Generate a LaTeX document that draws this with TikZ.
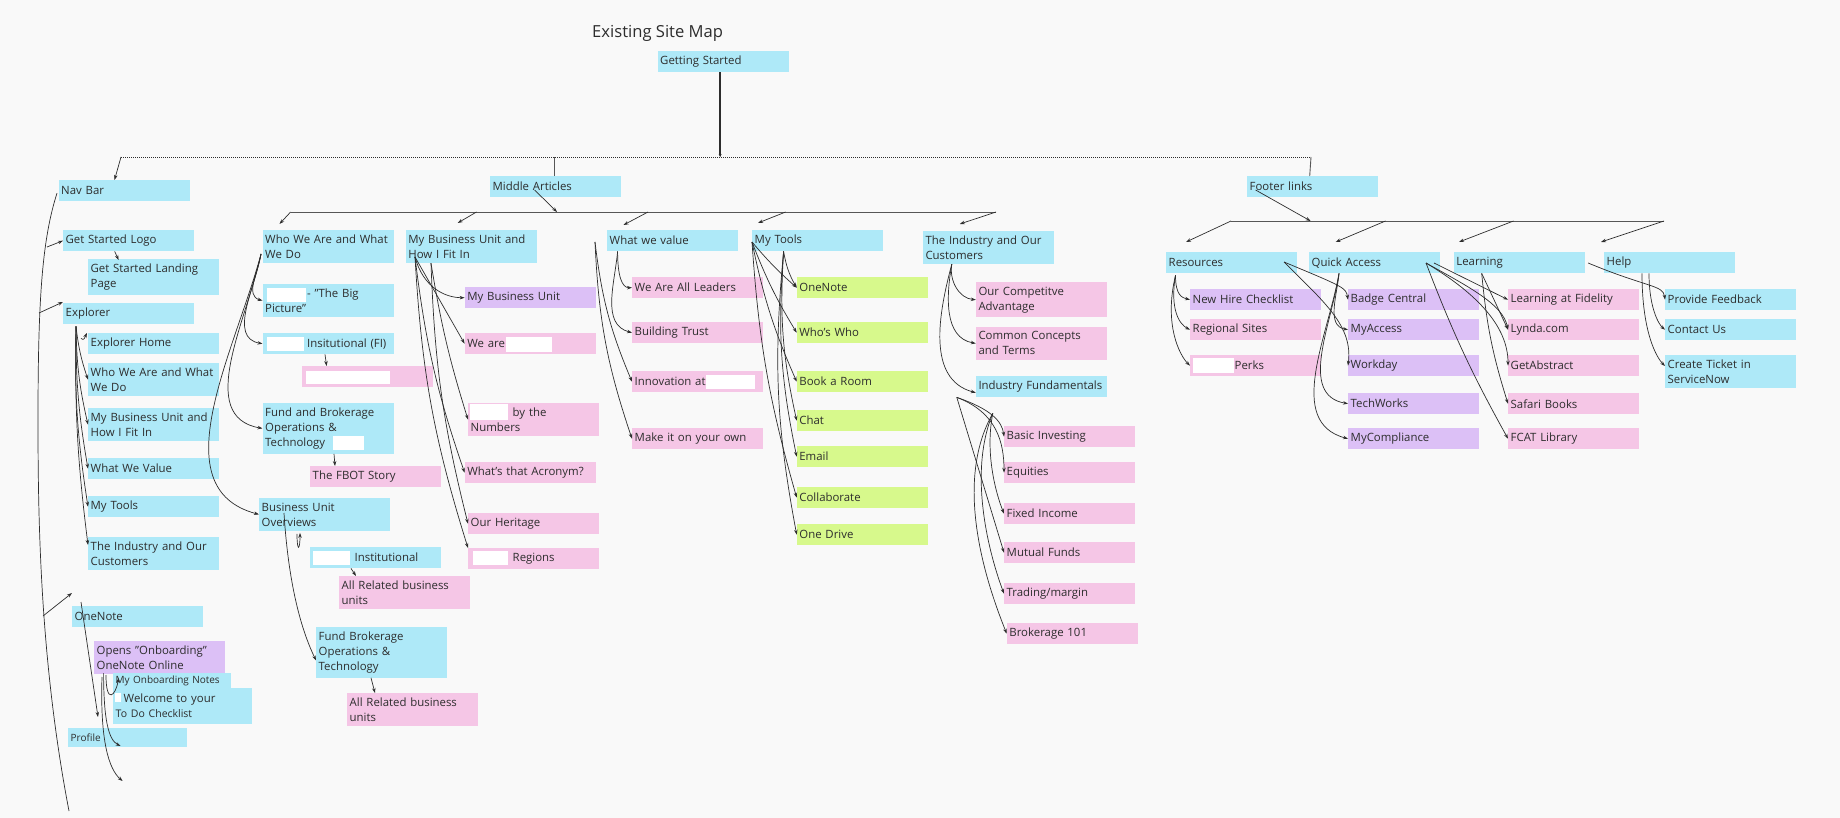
\documentclass[tikz,border=0pt]{standalone}
\usepackage{fontspec}
\setmainfont{Open Sans}
\usetikzlibrary{calc,arrows.meta}
\definecolor{paper}{RGB}{249,249,249}
\definecolor{ink}{RGB}{45,45,45}
\definecolor{tileblue}{RGB}{174,233,248}
\definecolor{tilepink}{RGB}{245,198,230}
\definecolor{tilepurple}{RGB}{220,192,246}
\definecolor{tilegreen}{RGB}{215,249,140}
\def\whiteout(#1)(#2){\fill[white] (#1) rectangle (#2);}
\tikzset{
  tile/.style={anchor=north west, text width=126pt, inner xsep=2.5pt, inner ysep=4.5pt,
    minimum height=21pt, align=left, font=\fontsize{11.4}{15}\selectfont, text=ink},
  bluebox/.style={tile, fill=tileblue},
  pinkbox/.style={tile, fill=tilepink},
  purplebox/.style={tile, fill=tilepurple},
  greenbox/.style={tile, fill=tilegreen},
  link/.style={draw=ink, line width=0.7pt, -{Stealth[length=5pt,width=3.5pt]}},
  rail/.style={draw=ink!80, line width=0.9pt}
}

\begin{document}
\begin{tikzpicture}[x=1pt,y=-1pt]
			%%%%% START %%%%%
			
			\fill[paper] (0,0) rectangle (1840,818);
			\useasboundingbox (0,0) rectangle (1840,818);
			
			\node[anchor=west, inner sep=0pt, text=ink, font=\fontsize{16.6}{20}\selectfont] (title) at (592,33) {Existing Site Map};
			\node[bluebox] (start) at (657.5,51) {Getting Started};
			
			\node[bluebox] (navbar) at (58.5,180) {Nav Bar};
			\node[bluebox] (middle) at (490,176) {Middle Articles};
			\node[bluebox] (footer) at (1247,176) {Footer links};
			
			% nav bar
			\node[bluebox] (logo) at (63,230) {Get Started Logo};
			\node[bluebox] (landing) at (88,259) {Get Started Landing\\Page};
			\node[bluebox] (explorer) at (63,303) {Explorer};
			\node[bluebox] (exhome) at (88,333) {Explorer Home};
			\node[bluebox] (exwho) at (88,363) {Who We Are and What\\We Do};
			\node[bluebox] (exunit) at (88,408) {My Business Unit and\\How I Fit In};
			\node[bluebox] (exvalue) at (88,458) {What We Value};
			\node[bluebox] (extools) at (88,496) {My Tools};
			\node[bluebox] (exindustry) at (88,537) {The Industry and Our\\Customers};
			\node[bluebox] (onenote) at (72,606) {OneNote};
			\node[purplebox] (onboard) at (94,641) {Opens "Onboarding"\\OneNote Online};
			\node[bluebox, text width=113pt, minimum height=15pt, inner ysep=1pt, font=\fontsize{10}{12}\selectfont] (notes) at (113,673) {My Onboarding Notes};
			\node[bluebox, text width=134pt, minimum height=36pt] (checklist) at (113,688) {\hspace*{8pt}Welcome to your\\{\fontsize{10.5}{12}\selectfont To Do Checklist}};
			\node[bluebox, text width=114pt, minimum height=19pt, font=\fontsize{10}{12}\selectfont] (profile) at (68,728) {Profile};
			
			% middle articles
			\node[bluebox] (who) at (262.5,230) {Who We Are and What\\We Do};
			\node[bluebox] (bigpic) at (262.5,284) {\hspace*{42pt}- "The Big\\Picture"};
			\node[bluebox] (insti) at (262.5,333) {\hspace*{42pt}Insitutional (FI)};
			\node[pinkbox] (redpink) at (302,366) {};
			\node[bluebox] (fundbro) at (262.5,403) {Fund and Brokerage\\Operations \&\\Technology};
			\node[pinkbox] (fbot) at (310,466) {The FBOT Story};
			\node[bluebox] (overviews) at (259,498) {Business Unit\\Overviews};
			\node[bluebox] (instit2) at (310,547) {\hspace*{42pt}Institutional};
			\node[pinkbox] (related1) at (339,576) {All Related business\\units};
			\node[bluebox] (fundbro2) at (316,627) {Fund Brokerage\\Operations \&\\Technology};
			\node[pinkbox] (related2) at (347,693) {All Related business\\units};
			
			\node[bluebox] (unit) at (405.7,230) {My Business Unit and\\How I Fit In};
			\node[purplebox] (myunit) at (464.6,287) {My Business Unit};
			\node[pinkbox] (weare) at (464.6,333) {We are};
			\node[pinkbox] (numbers) at (468,403) {\hspace*{42pt}by the\\Numbers};
			\node[pinkbox] (acronym) at (464.6,462) {What's that Acronym?};
			\node[pinkbox] (heritage) at (468,513) {Our Heritage};
			\node[pinkbox] (regions) at (468,548) {\hspace*{42pt}Regions};
			
			\node[bluebox] (value) at (607,230) {What we value};
			\node[pinkbox] (leaders) at (632,277) {We Are All Leaders};
			\node[pinkbox] (trust) at (632,322) {Building Trust};
			\node[pinkbox] (innovation) at (632,371) {Innovation at};
			\node[pinkbox] (ownway) at (632,428) {Make it on your own};
			
			\node[bluebox] (tools) at (752,230) {My Tools};
			\node[greenbox] (tonenote) at (796.7,277) {OneNote};
			\node[greenbox] (whoswho) at (796.7,322) {Who's Who};
			\node[greenbox] (room) at (796.7,371) {Book a Room};
			\node[greenbox] (chat) at (796.7,410) {Chat};
			\node[greenbox] (email) at (796.7,446) {Email};
			\node[greenbox] (collab) at (796.7,487) {Collaborate};
			\node[greenbox] (drive) at (796.7,524) {One Drive};
			
			\node[bluebox] (industry) at (922.8,231) {The Industry and Our\\Customers};
			\node[pinkbox] (advantage) at (975.8,282) {Our Competitve\\Advantage};
			\node[pinkbox] (concepts) at (975.8,327) {Common Concepts\\and Terms};
			\node[bluebox] (fundamentals) at (975.8,376) {Industry Fundamentals};
			\node[pinkbox] (basic) at (1004,426) {Basic Investing};
			\node[pinkbox] (equities) at (1004,462) {Equities};
			\node[pinkbox] (fixed) at (1004,503) {Fixed Income};
			\node[pinkbox] (mutual) at (1004,542) {Mutual Funds};
			\node[pinkbox] (trading) at (1004,583) {Trading/margin};
			\node[pinkbox] (brokerage) at (1006.7,623) {Brokerage 101};
			
			% footer links
			\node[bluebox] (resources) at (1166,252) {Resources};
			\node[bluebox] (quick) at (1309,252) {Quick Access};
			\node[bluebox] (learning) at (1453.7,252) {Learning};
			\node[bluebox] (help) at (1604,252) {Help};
			\node[purplebox] (newhire) at (1190,289) {New Hire Checklist};
			\node[pinkbox] (regional) at (1190,319) {Regional Sites};
			\node[pinkbox] (perks) at (1190,355) {\hspace*{42pt}Perks};
			\node[purplebox] (badge) at (1348,289) {Badge Central};
			\node[purplebox] (myaccess) at (1348,319) {MyAccess};
			\node[purplebox] (workday) at (1348,355) {Workday};
			\node[purplebox] (techworks) at (1348,393) {TechWorks};
			\node[purplebox] (compliance) at (1348,428) {MyCompliance};
			\node[pinkbox] (fidelity) at (1508,289) {Learning at Fidelity};
			\node[pinkbox] (lynda) at (1508,319) {Lynda.com};
			\node[pinkbox] (abstract) at (1508,355) {GetAbstract};
			\node[pinkbox] (safari) at (1508,393) {Safari Books};
			\node[pinkbox] (fcat) at (1508,428) {FCAT Library};
			\node[bluebox] (feedback) at (1665,289) {Provide Feedback};
			\node[bluebox] (contact) at (1665,319) {Contact Us};
			\node[bluebox] (ticket) at (1665,355) {Create Ticket in\\ServiceNow};
			
			% blanked out names
			\whiteout(267,288)(305.6,302)
			\whiteout(267,337)(303.7,351)
			\whiteout(306,371)(389.5,384)
			\whiteout(333,436)(364,450)
			\whiteout(313,551)(350,565)
			\whiteout(506,337)(551.6,352)
			\whiteout(470,404)(508,420)
			\whiteout(473,551)(508,565)
			\whiteout(705.7,375)(755,389)
			\whiteout(1193,358)(1233.6,373)
			\whiteout(114.5,693)(120.5,702)
			
			% top rails
			\coordinate (railL) at (121,157);
			\coordinate (railR) at (1311,157);
			\coordinate (midtop) at (554,157);
			\draw[line width=0.9pt, dash pattern=on 1pt off 1pt, ink] (railL) -- (railR);
			\draw[line width=1.6pt, ink, -{Stealth[length=3pt,width=3pt]}] ([xshift=-3pt]start.south) -- ([xshift=-3pt]start.south |- railL);
			\draw[link] (railL) -- ($(navbar.north west)+(56,0)$);
			\draw[rail] (midtop) -- (midtop |- middle.north);
			\draw[rail] (railR) -- ([xshift=-3pt]footer.north);
			
			\coordinate (m1) at (290.6,212);
			\coordinate (m2) at (476.5,212);
			\coordinate (m3) at (648,212);
			\coordinate (m4) at (785.6,212);
			\coordinate (m5) at (996,212);
			\coordinate (mhit) at (557,212);
			\draw[rail] (m1) -- (m5);
			\draw[link] ($(middle.north west)+(44.6,14)$) -- (mhit);
			\draw[link] (m1) -- ($(who.north west)+(17,-6)$);
			\draw[link] (m2) -- ($(unit.north west)+(52,-7)$);
			\draw[link] (m3) -- ($(value.north west)+(16.5,-5)$);
			\draw[link] (m4) -- ($(tools.north west)+(6,-7)$);
			\draw[link] (m5) -- ($(industry.north west)+(37,-7)$);
			
			\coordinate (f1) at (1231,221);
			\coordinate (f2) at (1385.5,221);
			\coordinate (f3) at (1513.5,221);
			\coordinate (f4) at (1664,221);
			\coordinate (fhit) at (1310.6,221);
			\draw[rail] (f1) -- (f4);
			\draw[link] ($(footer.north west)+(8.6,14)$) -- (fhit);
			\draw[link] (f1) -- ($(resources.north west)+(20,-10)$);
			\draw[link] (f2) -- ($(quick.north west)+(26.7,-10)$);
			\draw[link] (f3) -- ($(learning.north west)+(5.3,-10)$);
			\draw[link] (f4) -- ($(help.north west)+(-3,-10)$);
			
			% nav bar spine
			\coordinate (spine) at (69,811);
			\coordinate (sp1) at (47,247);
			\coordinate (sp2) at (39,313);
			\coordinate (sp3) at (43,616);
			\draw[line width=0.7pt, ink] ($(navbar.west)+(-1.5,2.5)$) .. controls (42,240) and (38,300) .. (38,420) .. controls (38,520) and (40,660) .. (spine);
			\draw[link] (sp1) -- (logo.west);
			\draw[link] (sp2) -- ($(explorer.north west)+(0,-1)$);
			\draw[link] (sp3) -- ($(onenote.north west)+(0,-13)$);
			\draw[link] ($(logo.south west)+(51.7,0)$) -- ($(landing.north west)+(30.6,1)$);
			
			\coordinate (ex0) at ($(explorer.south west)+(13,2)$);
			\draw[link] ($(explorer.south west)+(18,14)$) .. controls +(3,3) and +(-2,4) .. ($(exhome.north west)+(-1,0)$);
			\draw[link] (ex0) to[bend right=6] (exwho.west);
			\draw[link] (ex0) to[bend right=6] (exunit.west);
			\draw[link] (ex0) to[bend right=5] (exvalue.west);
			\draw[link] (ex0) to[bend right=5] (extools.west);
			\draw[link] (ex0) to[bend right=4] ($(exindustry.north west)+(0,8)$);
			
			\draw[link] ($(onenote.north west)+(9,-4)$) -- ($(profile.north west)+(30,-11)$);
			\draw[link] ($(onboard.north west)+(9.6,32)$) .. controls +(0,47) and +(-12,-6) .. ($(profile.north west)+(52.6,18)$);
			\draw[link] ($(onboard.north west)+(8,36)$) .. controls +(-2,63) and +(-14,-12) .. ($(profile.north west)+(54.6,53)$);
			\draw[link] ($(onboard.north west)+(12,34)$) .. controls +(0,30) and +(-3,18) .. ($(notes.north west)+(5.6,5)$);
			
			% who we are
			\coordinate (w0) at ($(who.north west)+(-1.5,24)$);
			\draw[link] (w0) to[out=-100, in=165] (bigpic.west);
			\draw[link] (w0) to[out=-100, in=170] (insti.west);
			\draw[link] (w0) to[out=-102, in=170] (fundbro.west);
			\draw[link] (w0) to[out=-105, in=165] (overviews.west);
			\draw[link] ($(insti.south west)+(62.5,0)$) -- ($(redpink.north west)+(24.6,0)$);
			\draw[link] ($(fundbro.south west)+(71.5,0)$) -- ($(fbot.north west)+(25,0)$);
			\draw[link] ($(overviews.south west)+(38,3)$) .. controls +(0,18) and +(0,18) .. ($(overviews.south west)+(41,2)$);
			\draw[link] ($(instit2.south west)+(41,0)$) -- ($(related1.north west)+(17,0)$);
			\draw[link] ($(overviews.north west)+(25,15)$) .. controls +(5,80) and +(-12,-25) .. ($(fundbro2.west)+(0,8)$);
			\draw[link] ($(fundbro2.south west)+(55,0)$) -- ($(related2.north west)+(28,0)$);
			
			% my business unit
			\coordinate (u0) at ($(unit.north west)+(9.3,27)$);
			\coordinate (u1) at ($(unit.south west)+(25.3,0)$);
			\draw[link] (u0) .. controls +(8,30) and +(-20,0) .. (myunit.west);
			\draw[link] (u0) -- (weare.west);
			\draw[link] (u1) to[bend right=4] (numbers.west);
			\draw[link] (u0) to[bend right=6] (acronym.west);
			\draw[link] (u1) to[bend right=6] (heritage.west);
			\draw[link] (u0) to[bend right=7] (regions.north west);
			
			% what we value
			\coordinate (v0) at ($(value.south west)+(10.6,0)$);
			\coordinate (v1) at ($(value.north west)+(-12,12)$);
			\draw[link] (v0) .. controls +(0,25) and +(-10,0) .. (leaders.west);
			\draw[link] (v0) to[out=-95, in=165] (trust.west);
			\draw[link] (v1) to[bend right=8] (innovation.west);
			\draw[link] (v1) to[bend right=8] (ownway.west);
			
			% my tools
			\coordinate (t0) at ($(tools.north west)+(0,12)$);
			\coordinate (t1) at ($(tools.south west)+(31.6,0)$);
			\draw[link] (t1) to[bend right=10] (tonenote.west);
			\draw[link] (t0) to[bend right=4] (tonenote.west);
			\draw[link] (t0) to[bend right=5] (whoswho.west);
			\draw[link] (t0) to[bend right=6] (room.west);
			\draw[link] (t1) to[bend right=8] (chat.west);
			\draw[link] (t1) to[bend right=8] (email.west);
			\draw[link] (t0) to[bend right=6] (collab.west);
			\draw[link] (t1) to[bend right=8] (drive.west);
			
			% industry
			\coordinate (i0) at ($(industry.south west)+(29,0)$);
			\coordinate (d0) at ($(fundamentals.south west)+(-19,0)$);
			\coordinate (d1) at ($(fundamentals.south west)+(17,16)$);
			\draw[link] (i0) to[out=-100, in=175] (advantage.west);
			\draw[link] (i0) to[out=-100, in=170] (concepts.west);
			\draw[link] (i0) to[out=-105, in=165] ($(fundamentals.west)+(0,6)$);
			\draw[link] (d0) .. controls +(35,12) and +(-2,-15) .. (basic.west);
			\draw[link] (d0) .. controls +(40,15) and +(0,-30) .. (equities.west);
			\draw[link] (d0) -- (mutual.west);
			\draw[link] (d1) .. controls +(-8,40) and +(-8,-20) .. (fixed.west);
			\draw[link] (d1) .. controls +(-25,60) and +(-15,-40) .. (trading.west);
			\draw[link] (d1) .. controls +(-40,70) and +(-20,-50) .. (brokerage.west);
			
			% footer children
			\coordinate (r0) at ($(resources.south west)+(9.5,2)$);
			\coordinate (r1) at ($(resources.north west)+(118,10)$);
			\draw[link] (r0) .. controls +(0,20) and +(-8,-2) .. (newhire.west);
			\draw[link] (r0) .. controls +(-6,35) and +(-10,-5) .. (regional.west);
			\draw[link] (r0) .. controls +(-12,50) and +(-10,-10) .. (perks.west);
			\draw[link] (r1) .. controls +(60,25) and +(-2,-12) .. (badge.west);
			\draw[link] (r1) .. controls +(40,40) and +(5,-40) .. (workday.west);
			
			\coordinate (q0) at ($(quick.south west)+(30,0)$);
			\coordinate (q1) at ($(quick.north west)+(117,11)$);
			\coordinate (q2) at ($(quick.north west)+(125,11)$);
			\draw[link] (q0) to[out=-95, in=170] (myaccess.west);
			\draw[link] (q0) to[out=-98, in=170] (techworks.west);
			\draw[link] (q0) to[out=-100, in=165] (compliance.west);
			\draw[link] (q1) .. controls +(45,25) and +(-5,-25) .. (lynda.west);
			\draw[link] (q1) .. controls +(50,30) and +(0,-40) .. (abstract.west);
			\draw[link] (q1) to[bend right=4] (fcat.west);
			\draw[link] (q2) -- (fidelity.west);
			
			\coordinate (l0) at ($(learning.south west)+(28,0)$);
			\coordinate (l1) at ($(learning.north east)+(3,11)$);
			\draw[link] (l0) -- (lynda.west);
			\draw[link] (l0) to[bend right=6] (safari.west);
			\draw[link] (l1) .. controls +(60,25) and +(-2,-15) .. (feedback.west);
			
			\coordinate (h0) at ($(help.south west)+(38,0)$);
			\coordinate (h1) at ($(help.south west)+(45,0)$);
			\draw[link] (h1) .. controls +(0,35) and +(-6,-5) .. (contact.west);
			\draw[link] (h0) .. controls +(0,60) and +(-8,-8) .. ($(ticket.north west)+(0,11)$);
			
			%%%%% END %%%%%
\end{tikzpicture}
\end{document}
